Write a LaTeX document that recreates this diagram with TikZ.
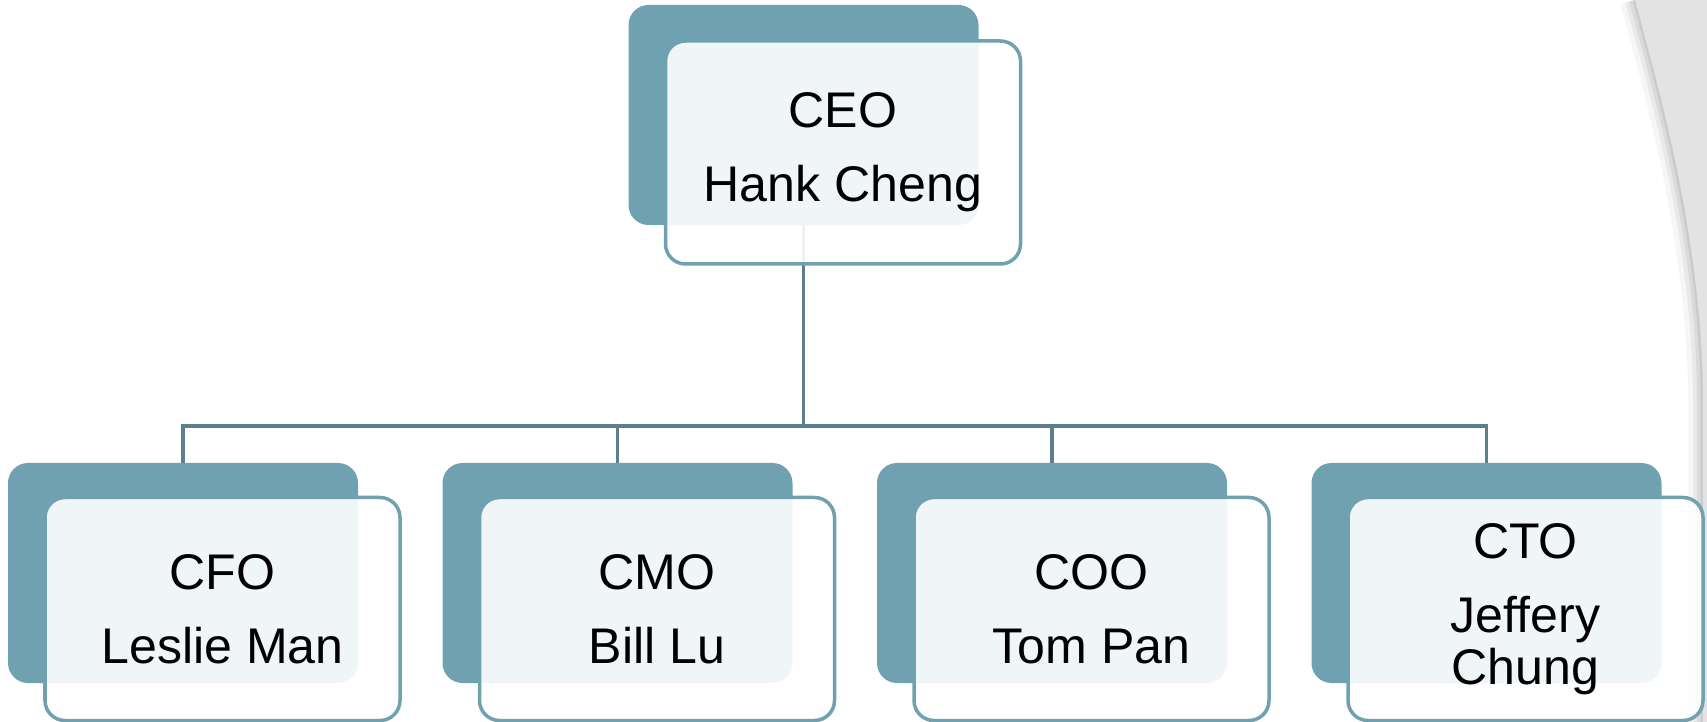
\documentclass[tikz,border=0pt]{standalone}
\usepackage{fontspec}
\setmainfont{Liberation Sans}
\usepackage{tikz}

\definecolor{teal}{HTML}{6FA1B0}
\definecolor{linecol}{HTML}{5B808B}
\definecolor{bggray}{HTML}{E3E3E3}

\tikzset{
    backbox/.style={fill=teal, rounded corners=0.4cm, minimum width=7cm, minimum height=4.4cm},
    frontbox/.style={draw=teal, line width=0.07cm, fill=white, fill opacity=0.9, text opacity=1,
        rounded corners=0.4cm, minimum width=7.1cm, minimum height=4.46cm, align=center,
        font=\fontsize{28.5}{29.6}\selectfont},
    conn/.style={draw=linecol, line width=0.07cm}
}

\begin{document}
\begin{tikzpicture}
    \useasboundingbox (0,0) rectangle (34.14,-14.44);

    % Arka plan: sagdaki gri yay ve golgesi
    \foreach \w/\o in {0.6/0.10, 0.4/0.16, 0.24/0.22, 0.1/0.3}
        \draw[line width=\w cm, black!35, opacity=\o] (32.7,0) .. controls (33.3,-2.2) and (34.05,-5) .. (34.06,-8) -- (34.06,-14.44);
    \fill[bggray] (32.7,0) .. controls (33.3,-2.2) and (34.05,-5) .. (34.06,-8) -- (34.06,-14.44) -- (34.14,-14.44) -- (34.14,0) -- cycle;

    % Koyu kutular
    \node[backbox] (ceo-back) at (16.07,-2.30) {};
    \node[backbox] (cfo-back) at (3.66,-11.46) {};
    \node[backbox] (cmo-back) at (12.35,-11.46) {};
    \node[backbox] (coo-back) at (21.04,-11.46) {};
    \node[backbox] (cto-back) at (29.73,-11.46) {};

    % Baglanti cizgileri
    \coordinate (bus) at (16.07,-8.52);
    \draw[conn] (ceo-back.south) -- (bus);
    \draw[conn] (bus) -| (cfo-back.north);
    \draw[conn] (bus) -| (cmo-back.north);
    \draw[conn] (bus) -| (coo-back.north);
    \draw[conn] (bus) -| (cto-back.north);

    % On kutular ve isimler
    \node[frontbox] (ceo) at (16.86,-3.05) {CEO\\[0.44cm]Hank Cheng};
    \node[frontbox] (cfo) at (4.45,-12.18) {CFO\\[0.44cm]Leslie Man};
    \node[frontbox] (cmo) at (13.14,-12.18) {CMO\\[0.44cm]Bill Lu};
    \node[frontbox] (coo) at (21.83,-12.18) {COO\\[0.44cm]Tom Pan};
    \node[frontbox] (cto) at (30.51,-12.18) {CTO\\[0.44cm]Jeffery\\Chung};
\end{tikzpicture}
\end{document}
